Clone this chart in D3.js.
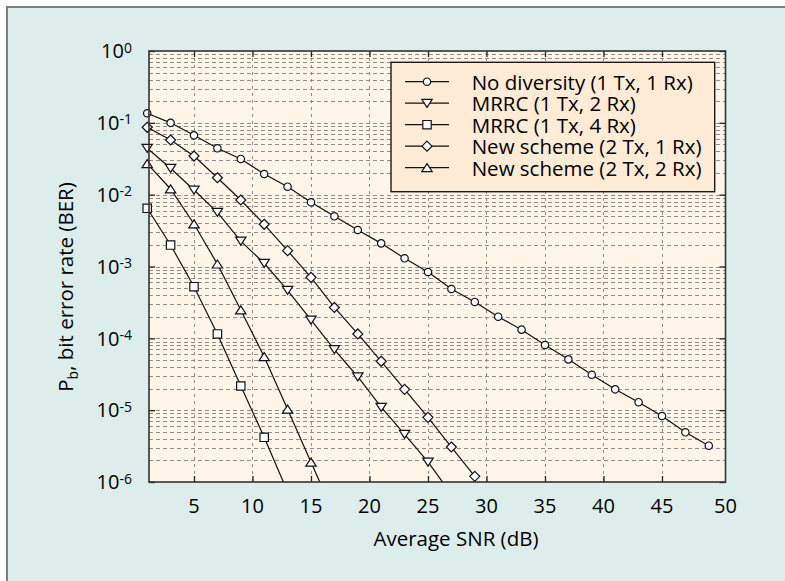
<!DOCTYPE html>
<html><head><meta charset="utf-8">
<script src="https://cdn.jsdelivr.net/npm/d3@7"></script>
<style>
body{margin:0;background:#fff}
text{font-family:"Open Sans",sans-serif;fill:#000}
</style></head>
<body>
<svg id="chart" width="785" height="581"></svg>
<script>
// ---- data (Average SNR in dB, bit error rate) ----
const snrNoDiv = [1,3,5,7,9,11,13,15,17,19,21,23,25,27,29,31,33,35,37,39,41,43,45,47,49];
const berNoDiv = [0.136,0.100,0.067,0.0442,0.0314,0.0194,0.0129,0.00783,0.0050,0.00322,0.00210,0.00130,0.000838,0.000486,0.000321,0.000200,0.000132,8.07e-5,5.1e-5,3.11e-5,1.95e-5,1.29e-5,8.3e-6,4.92e-6,3.2e-6];
const snrMrrc2 = [1,3,5,7,9,11,13,15,17,19,21,23,25,27];
const berMrrc2 = [0.0442,0.0233,0.0116,0.00568,0.00226,0.00111,0.000466,0.000180,6.97e-5,2.92e-5,1.1e-5,4.61e-6,1.9e-6,6.8e-7];
const snrMrrc4 = [1,3,5,7,9,11,13];
const berMrrc4 = [0.00646,0.00199,0.000523,0.000115,2.17e-5,4.19e-6,7.3e-7];
const snrNew21 = [1,3,5,7,9,11,13,15,17,19,21,23,25,27,29];
const berNew21 = [0.0867,0.0577,0.0345,0.0172,0.00843,0.00387,0.00166,0.000707,0.000269,0.000115,4.79e-5,1.95e-5,7.95e-6,3.07e-6,1.2e-6];
const snrNew22 = [1,3,5,7,9,11,13,15,17];
const berNew22 = [0.0270,0.0120,0.00391,0.00108,0.000248,5.55e-5,1.03e-5,1.88e-6,3.5e-7];

const seriesNames = ["No diversity (1 Tx, 1 Rx)","MRRC (1 Tx, 2 Rx)","MRRC (1 Tx, 4 Rx)","New scheme (2 Tx, 1 Rx)","New scheme (2 Tx, 2 Rx)"];
const seriesMarkers = ["circle","triangleDown","square","diamond","triangleUp"];
const xTickValues = [5,10,15,20,25,30,35,40,45];
const xTickLabels = ["5","10","15","20","25","30","35","40","45","50"];
const yDecadeExps = [0,-1,-2,-3,-4,-5,-6];
const xTitle = "Average SNR (dB)";

// ---- layout ----
const W = 785, H = 581;
const L = 149, R = 725.5, T = 51, B = 482;
const svg = d3.select("#chart");

const x = d3.scaleLinear().domain([1.154, 50.43]).range([L, R]);
const y = d3.scaleLog().domain([1e-6, 1]).range([B, T]);

// outer panel
svg.append("rect").attr("x",0).attr("y",0).attr("width",W).attr("height",H).attr("fill","#fff");
svg.append("rect").attr("x",7).attr("y",7).attr("width",W+20).attr("height",H+20)
  .attr("fill","#ddedec").attr("stroke","#7d7d7d").attr("stroke-width",2);

// plot background
svg.append("rect").attr("x",L).attr("y",T).attr("width",R-L).attr("height",B-T).attr("fill","#fff5e8");

// grid
const gridG = svg.append("g").attr("stroke","#8c8c8c").attr("stroke-width",1).attr("stroke-dasharray","4,3").attr("fill","none");
const hVals = [];
for (let e=-6; e<0; e++) for (let k=1; k<10; k++) hVals.push(k*Math.pow(10,e));
gridG.selectAll("line.h").data(hVals.filter(v=>v>1e-6)).join("line").attr("class","h")
  .attr("x1",L).attr("x2",R).attr("y1",d=>Math.round(y(d))+0.5).attr("y2",d=>Math.round(y(d))+0.5);
gridG.selectAll("line.v").data(xTickValues).join("line").attr("class","v")
  .attr("y1",T).attr("y2",B).attr("x1",d=>Math.round(x(d))+0.5).attr("x2",d=>Math.round(x(d))+0.5)
  .attr("stroke-dasharray","3,4");

// axes (inward ticks)
const tickLen = 6;
const decVals = yDecadeExps.map(e=>Math.pow(10,e));
const axB = d3.axisBottom(x).tickValues(xTickValues).tickSize(-tickLen).tickFormat("");
const axT = d3.axisTop(x).tickValues(xTickValues).tickSize(-tickLen).tickFormat("");
const axL = d3.axisLeft(y).tickValues(decVals).tickSize(-tickLen).tickFormat("");
const axR = d3.axisRight(y).tickValues(decVals).tickSize(-tickLen).tickFormat("");
[[axB,`translate(0,${B})`],[axT,`translate(0,${T})`],[axL,`translate(${L},0)`],[axR,`translate(${R},0)`]].forEach(([a,t])=>{
  const g = svg.append("g").attr("transform",t).call(a);
  g.select(".domain").remove();
  g.selectAll(".tick line").attr("stroke","#222").attr("stroke-width",1.3);
});

// x tick labels
const xLabelPos = xTickValues.concat([x.domain()[1]]);
svg.append("g").selectAll("text").data(xLabelPos).join("text")
  .attr("x",d=>x(d)).attr("y",512.5).attr("text-anchor","middle")
  .style("font-size","20px").text((d,i)=>xTickLabels[i]);

// y tick labels 10^e
const yl = svg.append("g").selectAll("text").data(yDecadeExps).join("text")
  .attr("x",132).attr("y",d=>y(Math.pow(10,d))+7.3).attr("text-anchor","end").style("font-size","20px");
yl.append("tspan").text("10");
yl.append("tspan").attr("dy",-5.8).style("font-size","14px").text(d=>String(d));

// axis titles
svg.append("text").attr("x",456).attr("y",545.7).attr("text-anchor","middle").style("font-size","20.5px").text(xTitle);
const yt = svg.append("text").attr("transform","translate(73,287) rotate(-90)").attr("text-anchor","middle").style("font-size","20.5px");
yt.append("tspan").text("P");
yt.append("tspan").attr("dy",5).style("font-size","14px").text("b");
yt.append("tspan").attr("dy",-5).text(", bit error rate (BER)");

// marker shapes
const shapes = {
  circle: "M3.7,0A3.7,3.7,0,1,1,-3.7,0A3.7,3.7,0,1,1,3.7,0Z",
  square: "M-4.2,-4.2H4.2V4.2H-4.2Z",
  diamond: "M0,-5L5,0L0,5L-5,0Z",
  triangleDown: "M-5.2,-3.9L5.2,-3.9L0,4.1Z",
  triangleUp: "M-5.2,3.9L5.2,3.9L0,-4.1Z"
};

// clip
svg.append("clipPath").attr("id","clip").append("rect").attr("x",L-20).attr("y",T-20).attr("width",R-L+40).attr("height",B-T+20);
const plotG = svg.append("g").attr("clip-path","url(#clip)");

const allSeries = [
  {x:snrNoDiv,y:berNoDiv},{x:snrMrrc2,y:berMrrc2},{x:snrMrrc4,y:berMrrc4},{x:snrNew21,y:berNew21},{x:snrNew22,y:berNew22}
];
const line = d3.line().x(d=>x(d[0])).y(d=>y(d[1]));
allSeries.forEach((s,i)=>{
  const pts = s.x.map((v,j)=>[v,s.y[j]]);
  plotG.append("path").datum(pts).attr("d",line).attr("fill","none").attr("stroke","#111").attr("stroke-width",1.2);
  plotG.selectAll(null).data(pts).join("path")
    .attr("transform",d=>`translate(${x(d[0])},${y(d[1])})`)
    .attr("d",shapes[seriesMarkers[i]]).attr("fill","#fff").attr("stroke","#111").attr("stroke-width",1.2);
});

// frame
svg.append("rect").attr("x",L).attr("y",T).attr("width",R-L).attr("height",B-T)
  .attr("fill","none").attr("stroke","#333").attr("stroke-width",1.6);

// legend
const lg = svg.append("g");
lg.append("rect").attr("x",391).attr("y",62.3).attr("width",323.7).attr("height",129.4)
  .attr("fill","#ffebd6").attr("stroke","#1a1a1a").attr("stroke-width",1.4);
seriesNames.forEach((n,i)=>{
  const ry = 81.7 + i*21.5;
  lg.append("line").attr("x1",405).attr("x2",449).attr("y1",ry).attr("y2",ry).attr("stroke","#111").attr("stroke-width",1.2);
  lg.append("path").attr("transform",`translate(427,${ry})`).attr("d",shapes[seriesMarkers[i]])
    .attr("fill","#fff").attr("stroke","#111").attr("stroke-width",1.2);
  lg.append("text").attr("x",471.7).attr("y",ry+8).style("font-size","20.5px").text(n);
});
</script>
</body></html>
